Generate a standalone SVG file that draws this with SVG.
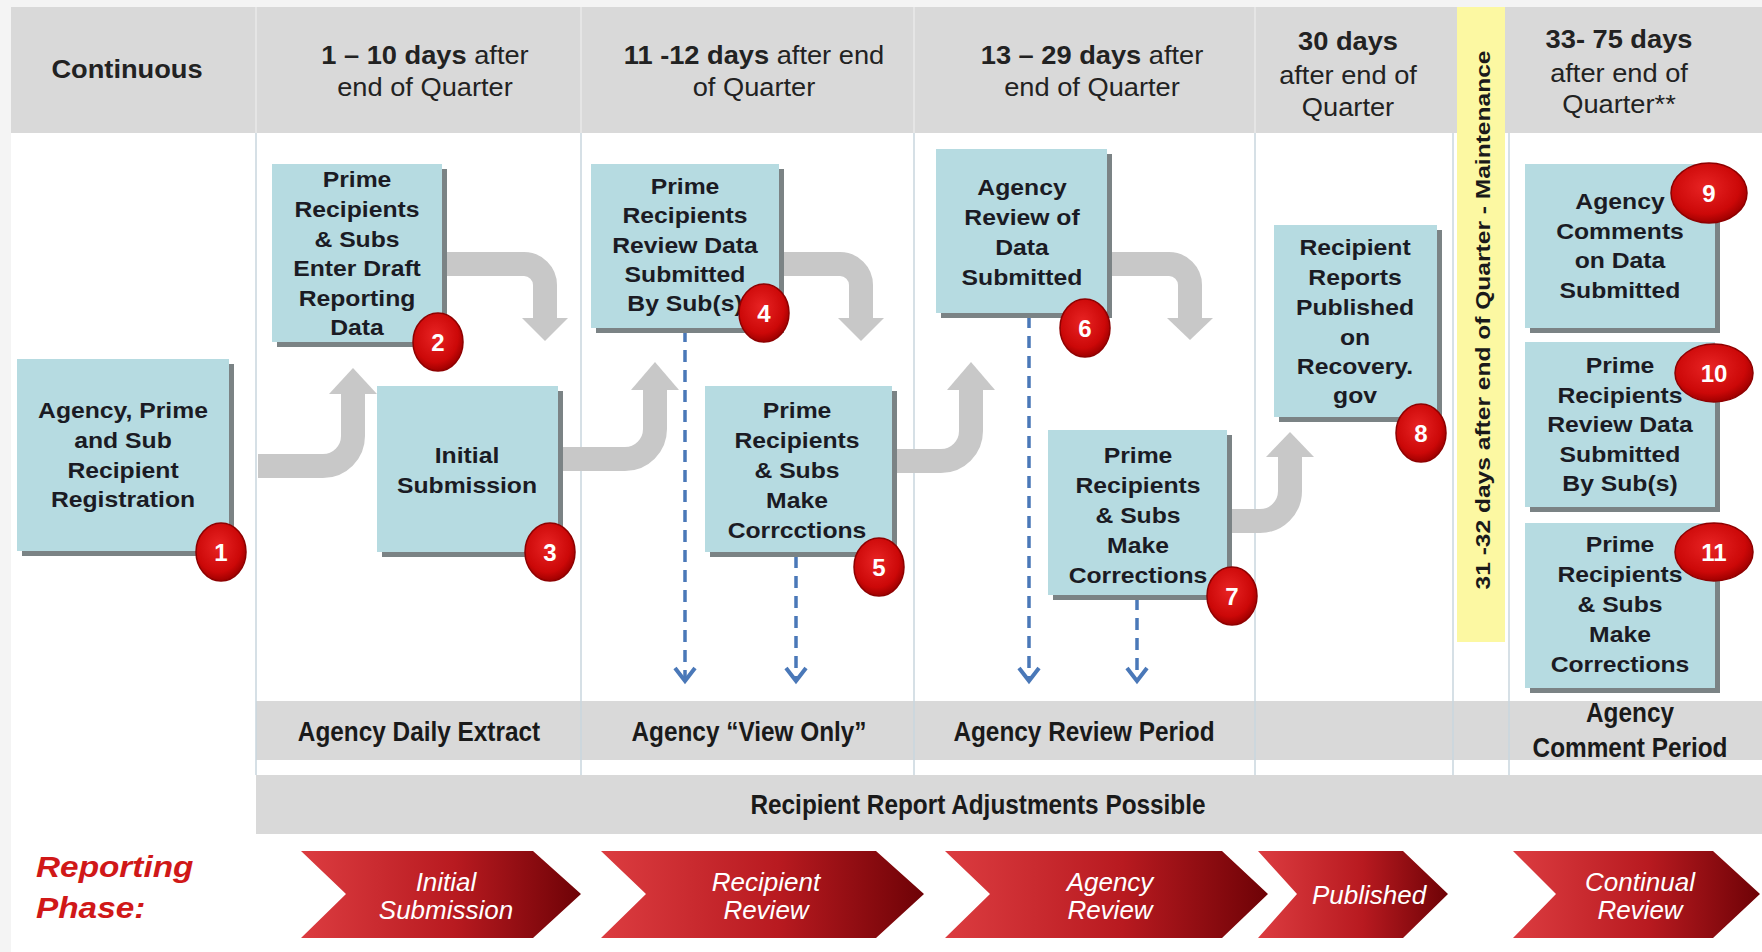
<svg xmlns="http://www.w3.org/2000/svg" width="1762" height="952" viewBox="0 0 1762 952">
<defs>
<style>
text{font-family:"Liberation Sans",Arial,sans-serif}
.hdr{fill:#d9d9d9}
.div{stroke:#c9d6de;stroke-width:1.5}
.hdiv{stroke:#e8e8e8;stroke-width:1.5}
.box{fill:#b6dbe1}
.shd{fill:#7b8385}
.nt{font-weight:bold;font-size:21.5px;fill:#1b1b24;text-anchor:middle}
.ht{font-size:25px;fill:#222;text-anchor:middle}
.b{font-weight:bold}
.bt{font-size:28px;font-weight:bold;fill:#1a1a1a;text-anchor:middle}
.ct{font-size:26px;font-style:italic;fill:#fff;text-anchor:middle}
.rp{font-size:29px;font-weight:bold;font-style:italic;fill:#d01818}
.ga{fill:none;stroke:#c8c8c8;stroke-width:24}
.gh{fill:#c8c8c8}
.dash{fill:none;stroke:#4a78b8;stroke-width:3.5;stroke-dasharray:12 8}
.badge{fill:url(#rg);stroke:#8e0000;stroke-width:1.5}
.bn{font-size:24px;font-weight:bold;fill:#fff;text-anchor:middle}
.yt{font-size:21px;font-weight:bold;fill:#1a1a1a;text-anchor:middle}
.chev{fill:url(#cg)}
</style>
<linearGradient id="cg" x1="0" y1="0" x2="1" y2="0">
<stop offset="0" stop-color="#dc3c40"/>
<stop offset="0.55" stop-color="#b81a20"/>
<stop offset="1" stop-color="#6e0206"/>
</linearGradient>
<radialGradient id="rg" cx="0.45" cy="0.4" r="0.6">
<stop offset="0" stop-color="#e82424"/>
<stop offset="0.75" stop-color="#cc0808"/>
<stop offset="1" stop-color="#a00000"/>
</radialGradient>
<marker id="va" markerUnits="userSpaceOnUse" markerWidth="30" markerHeight="30" viewBox="-15 -15 30 30" refX="0" refY="0" orient="auto">
<path d="M-13,-10 L0,0 L-13,10" fill="none" stroke="#4a78b8" stroke-width="4"/>
</marker>
</defs>

<rect x="0" y="0" width="1762" height="952" fill="#f4f4f4"/>
<rect x="11" y="7" width="1751" height="945" fill="#ffffff"/>

<!-- header -->
<g id="header">
<rect class="hdr" x="11" y="7" width="1751" height="126"/>
<line class="hdiv" x1="256" y1="7" x2="256" y2="133"/>
<line class="hdiv" x1="581" y1="7" x2="581" y2="133"/>
<line class="hdiv" x1="914" y1="7" x2="914" y2="133"/>
<line class="hdiv" x1="1255" y1="7" x2="1255" y2="133"/>
<text class="ht b" transform="translate(127,0) scale(1.09,1)" x="0" y="78">Continuous</text>
<text class="ht" transform="translate(425,0) scale(1.09,1)"><tspan x="0" y="64"><tspan class="b">1 – 10 days</tspan> after</tspan><tspan x="0" y="96">end of Quarter</tspan></text>
<text class="ht" transform="translate(754,0) scale(1.09,1)"><tspan x="0" y="64"><tspan class="b">11 -12 days</tspan> after end</tspan><tspan x="0" y="96">of Quarter</tspan></text>
<text class="ht" transform="translate(1092,0) scale(1.09,1)"><tspan x="0" y="64"><tspan class="b">13 – 29 days</tspan> after</tspan><tspan x="0" y="96">end of Quarter</tspan></text>
<text class="ht" transform="translate(1348,0) scale(1.09,1)"><tspan x="0" y="50" class="b">30 days</tspan><tspan x="0" y="84">after end of</tspan><tspan x="0" y="116">Quarter</tspan></text>
<text class="ht" transform="translate(1619,0) scale(1.09,1)"><tspan x="0" y="48" class="b">33- 75 days</tspan><tspan x="0" y="82">after end of</tspan><tspan x="0" y="113">Quarter**</tspan></text>
</g>

<!-- bands -->
<g id="agency-band">
<rect class="hdr" x="256" y="701" width="1506" height="59"/>
<text class="bt" transform="translate(419,0) scale(0.87,1)" x="0" y="741">Agency Daily Extract</text>
<text class="bt" transform="translate(749,0) scale(0.87,1)" x="0" y="741">Agency “View Only”</text>
<text class="bt" transform="translate(1084,0) scale(0.87,1)" x="0" y="741">Agency Review Period</text>
<text class="bt" transform="translate(1630,0) scale(0.87,1)"><tspan x="0" y="722">Agency</tspan><tspan x="0" y="757">Comment Period</tspan></text>
</g>
<g id="adjust-band">
<rect class="hdr" x="256" y="775" width="1506" height="59"/>
<text class="bt" transform="translate(978,0) scale(0.87,1)" x="0" y="814">Recipient Report Adjustments Possible</text>
</g>

<!-- column dividers -->
<g id="dividers">
<line class="div" x1="256" y1="133" x2="256" y2="775"/>
<line class="div" x1="581" y1="133" x2="581" y2="775"/>
<line class="div" x1="914" y1="133" x2="914" y2="775"/>
<line class="div" x1="1255" y1="133" x2="1255" y2="775"/>
<line class="div" x1="1453" y1="133" x2="1453" y2="775"/>
<line class="div" x1="1509" y1="133" x2="1509" y2="775"/>
</g>

<g id="maintenance">
<rect x="1457" y="7" width="48" height="635" fill="#fcf8a2"/>
<text class="yt" transform="translate(1490,320) rotate(-90)" x="0" y="0" textLength="539" lengthAdjust="spacingAndGlyphs">31 -32 days after end of Quarter - Maintenance</text>
</g>

<!-- connectors -->
<g id="connectors">
<path class="ga" d="M258,466 H323 A30,30 0 0 0 353,436 V392"/>
<polygon class="gh" points="329,394 377,394 353,368"/>
<path class="ga" d="M435,264 H524 A21,21 0 0 1 545,285 V320"/>
<polygon class="gh" points="522,318 568,318 545,341"/>
<path class="ga" d="M555,459 H625 A30,30 0 0 0 655,429 V388"/>
<polygon class="gh" points="631,390 679,390 655,362"/>
<path class="ga" d="M775,264 H840 A21,21 0 0 1 861,285 V320"/>
<polygon class="gh" points="838,318 884,318 861,341"/>
<path class="ga" d="M888,461 H941 A30,30 0 0 0 971,431 V388"/>
<polygon class="gh" points="947,390 995,390 971,362"/>
<path class="ga" d="M1104,264 H1169 A21,21 0 0 1 1190,285 V320"/>
<polygon class="gh" points="1167,318 1213,318 1190,340"/>
<path class="ga" d="M1225,521 H1260 A30,30 0 0 0 1290,491 V455"/>
<polygon class="gh" points="1266,457 1314,457 1290,432"/>
<path class="dash" d="M685,330 V681" marker-end="url(#va)"/>
<path class="dash" d="M796,556 V681" marker-end="url(#va)"/>
<path class="dash" d="M1029,316 V681" marker-end="url(#va)"/>
<path class="dash" d="M1137,598 V681" marker-end="url(#va)"/>
</g>

<!-- nodes -->
<g id="node1">
<rect class="shd" x="22" y="364" width="212" height="192"/>
<rect class="box" x="17" y="359" width="212" height="192"/>
<text class="nt" transform="translate(123,0) scale(1.15,1)"><tspan x="0" y="418">Agency, Prime</tspan><tspan x="0" y="448">and Sub</tspan><tspan x="0" y="478">Recipient</tspan><tspan x="0" y="507">Registration</tspan></text>
</g>
<g id="node2">
<rect class="shd" x="277" y="169" width="170" height="178"/>
<rect class="box" x="272" y="164" width="170" height="178"/>
<text class="nt" transform="translate(357,0) scale(1.15,1)"><tspan x="0" y="187">Prime</tspan><tspan x="0" y="217">Recipients</tspan><tspan x="0" y="247">&amp; Subs</tspan><tspan x="0" y="276">Enter Draft</tspan><tspan x="0" y="306">Reporting</tspan><tspan x="0" y="335">Data</tspan></text>
</g>
<g id="node3">
<rect class="shd" x="382" y="391" width="181" height="166"/>
<rect class="box" x="377" y="386" width="181" height="166"/>
<text class="nt" transform="translate(467,0) scale(1.15,1)"><tspan x="0" y="463">Initial</tspan><tspan x="0" y="493">Submission</tspan></text>
</g>
<g id="node4">
<rect class="shd" x="596" y="169" width="188" height="164"/>
<rect class="box" x="591" y="164" width="188" height="164"/>
<text class="nt" transform="translate(685,0) scale(1.15,1)"><tspan x="0" y="194">Prime</tspan><tspan x="0" y="223">Recipients</tspan><tspan x="0" y="253">Review Data</tspan><tspan x="0" y="282">Submitted</tspan><tspan x="0" y="311">By Sub(s)</tspan></text>
</g>
<g id="node5">
<rect class="shd" x="710" y="391" width="187" height="166"/>
<rect class="box" x="705" y="386" width="187" height="166"/>
<text class="nt" transform="translate(797,0) scale(1.15,1)"><tspan x="0" y="418">Prime</tspan><tspan x="0" y="448">Recipients</tspan><tspan x="0" y="478">&amp; Subs</tspan><tspan x="0" y="508">Make</tspan><tspan x="0" y="538">Corrcctions</tspan></text>
</g>
<g id="node6">
<rect class="shd" x="941" y="154" width="171" height="164"/>
<rect class="box" x="936" y="149" width="171" height="164"/>
<text class="nt" transform="translate(1022,0) scale(1.15,1)"><tspan x="0" y="195">Agency</tspan><tspan x="0" y="225">Review of</tspan><tspan x="0" y="255">Data</tspan><tspan x="0" y="285">Submitted</tspan></text>
</g>
<g id="node7">
<rect class="shd" x="1053" y="435" width="179" height="165"/>
<rect class="box" x="1048" y="430" width="179" height="165"/>
<text class="nt" transform="translate(1138,0) scale(1.15,1)"><tspan x="0" y="463">Prime</tspan><tspan x="0" y="493">Recipients</tspan><tspan x="0" y="523">&amp; Subs</tspan><tspan x="0" y="553">Make</tspan><tspan x="0" y="583">Corrections</tspan></text>
</g>
<g id="node8">
<rect class="shd" x="1279" y="230" width="163" height="192"/>
<rect class="box" x="1274" y="225" width="163" height="192"/>
<text class="nt" transform="translate(1355,0) scale(1.15,1)"><tspan x="0" y="255">Recipient</tspan><tspan x="0" y="285">Reports</tspan><tspan x="0" y="315">Published</tspan><tspan x="0" y="345">on</tspan><tspan x="0" y="374">Recovery.</tspan><tspan x="0" y="403">gov</tspan></text>
</g>
<g id="node9">
<rect class="shd" x="1530" y="169" width="190" height="164"/>
<rect class="box" x="1525" y="164" width="190" height="164"/>
<text class="nt" transform="translate(1620,0) scale(1.15,1)"><tspan x="0" y="209">Agency</tspan><tspan x="0" y="239">Comments</tspan><tspan x="0" y="268">on Data</tspan><tspan x="0" y="298">Submitted</tspan></text>
</g>
<g id="node10">
<rect class="shd" x="1530" y="347" width="190" height="165"/>
<rect class="box" x="1525" y="342" width="190" height="165"/>
<text class="nt" transform="translate(1620,0) scale(1.15,1)"><tspan x="0" y="373">Prime</tspan><tspan x="0" y="403">Recipients</tspan><tspan x="0" y="432">Review Data</tspan><tspan x="0" y="462">Submitted</tspan><tspan x="0" y="491">By Sub(s)</tspan></text>
</g>
<g id="node11">
<rect class="shd" x="1530" y="528" width="190" height="165"/>
<rect class="box" x="1525" y="523" width="190" height="165"/>
<text class="nt" transform="translate(1620,0) scale(1.15,1)"><tspan x="0" y="552">Prime</tspan><tspan x="0" y="582">Recipients</tspan><tspan x="0" y="612">&amp; Subs</tspan><tspan x="0" y="642">Make</tspan><tspan x="0" y="672">Corrections</tspan></text>
</g>

<!-- badges -->
<g id="badges">
<ellipse class="badge" cx="221" cy="552" rx="25" ry="29"/><text class="bn" x="221" y="561">1</text>
<ellipse class="badge" cx="438" cy="342" rx="25" ry="29"/><text class="bn" x="438" y="351">2</text>
<ellipse class="badge" cx="550" cy="552" rx="25" ry="29"/><text class="bn" x="550" y="561">3</text>
<ellipse class="badge" cx="764" cy="313" rx="25" ry="29"/><text class="bn" x="764" y="322">4</text>
<ellipse class="badge" cx="879" cy="567" rx="25" ry="29"/><text class="bn" x="879" y="576">5</text>
<ellipse class="badge" cx="1085" cy="328" rx="25" ry="29"/><text class="bn" x="1085" y="337">6</text>
<ellipse class="badge" cx="1232" cy="596" rx="25" ry="29"/><text class="bn" x="1232" y="605">7</text>
<ellipse class="badge" cx="1421" cy="433" rx="25" ry="29"/><text class="bn" x="1421" y="442">8</text>
<ellipse class="badge" cx="1709" cy="193" rx="38" ry="30"/><text class="bn" x="1709" y="202">9</text>
<ellipse class="badge" cx="1714" cy="373" rx="39" ry="29"/><text class="bn" x="1714" y="382">10</text>
<ellipse class="badge" cx="1714" cy="552" rx="39" ry="29"/><text class="bn" x="1714" y="561">11</text>
</g>

<!-- reporting phase -->
<g id="phase-label">
<text class="rp" transform="translate(36,0) scale(1.15,1)"><tspan x="0" y="877">Reporting</tspan><tspan x="0" y="918">Phase:</tspan></text>
</g>
<g id="phase1">
<polygon class="chev" points="301,851 533,851 581,894 533,938 301,938 346,894"/>
<text class="ct"><tspan x="446" y="891">Initial</tspan><tspan x="446" y="919">Submission</tspan></text>
</g>
<g id="phase2">
<polygon class="chev" points="601,851 876,851 924,894 876,938 601,938 646,894"/>
<text class="ct"><tspan x="766" y="891">Recipient</tspan><tspan x="766" y="919">Review</tspan></text>
</g>
<g id="phase3">
<polygon class="chev" points="945,851 1222,851 1268,894 1222,938 945,938 990,894"/>
<text class="ct"><tspan x="1110" y="891">Agency</tspan><tspan x="1110" y="919">Review</tspan></text>
</g>
<g id="phase4">
<polygon class="chev" points="1258,851 1403,851 1448,894 1403,938 1258,938 1297,894"/>
<text class="ct" x="1369" y="904">Published</text>
</g>
<g id="phase5">
<polygon class="chev" points="1513,851 1713,851 1760,894 1713,938 1513,938 1556,894"/>
<text class="ct"><tspan x="1640" y="891">Continual</tspan><tspan x="1640" y="919">Review</tspan></text>
</g>
</svg>
